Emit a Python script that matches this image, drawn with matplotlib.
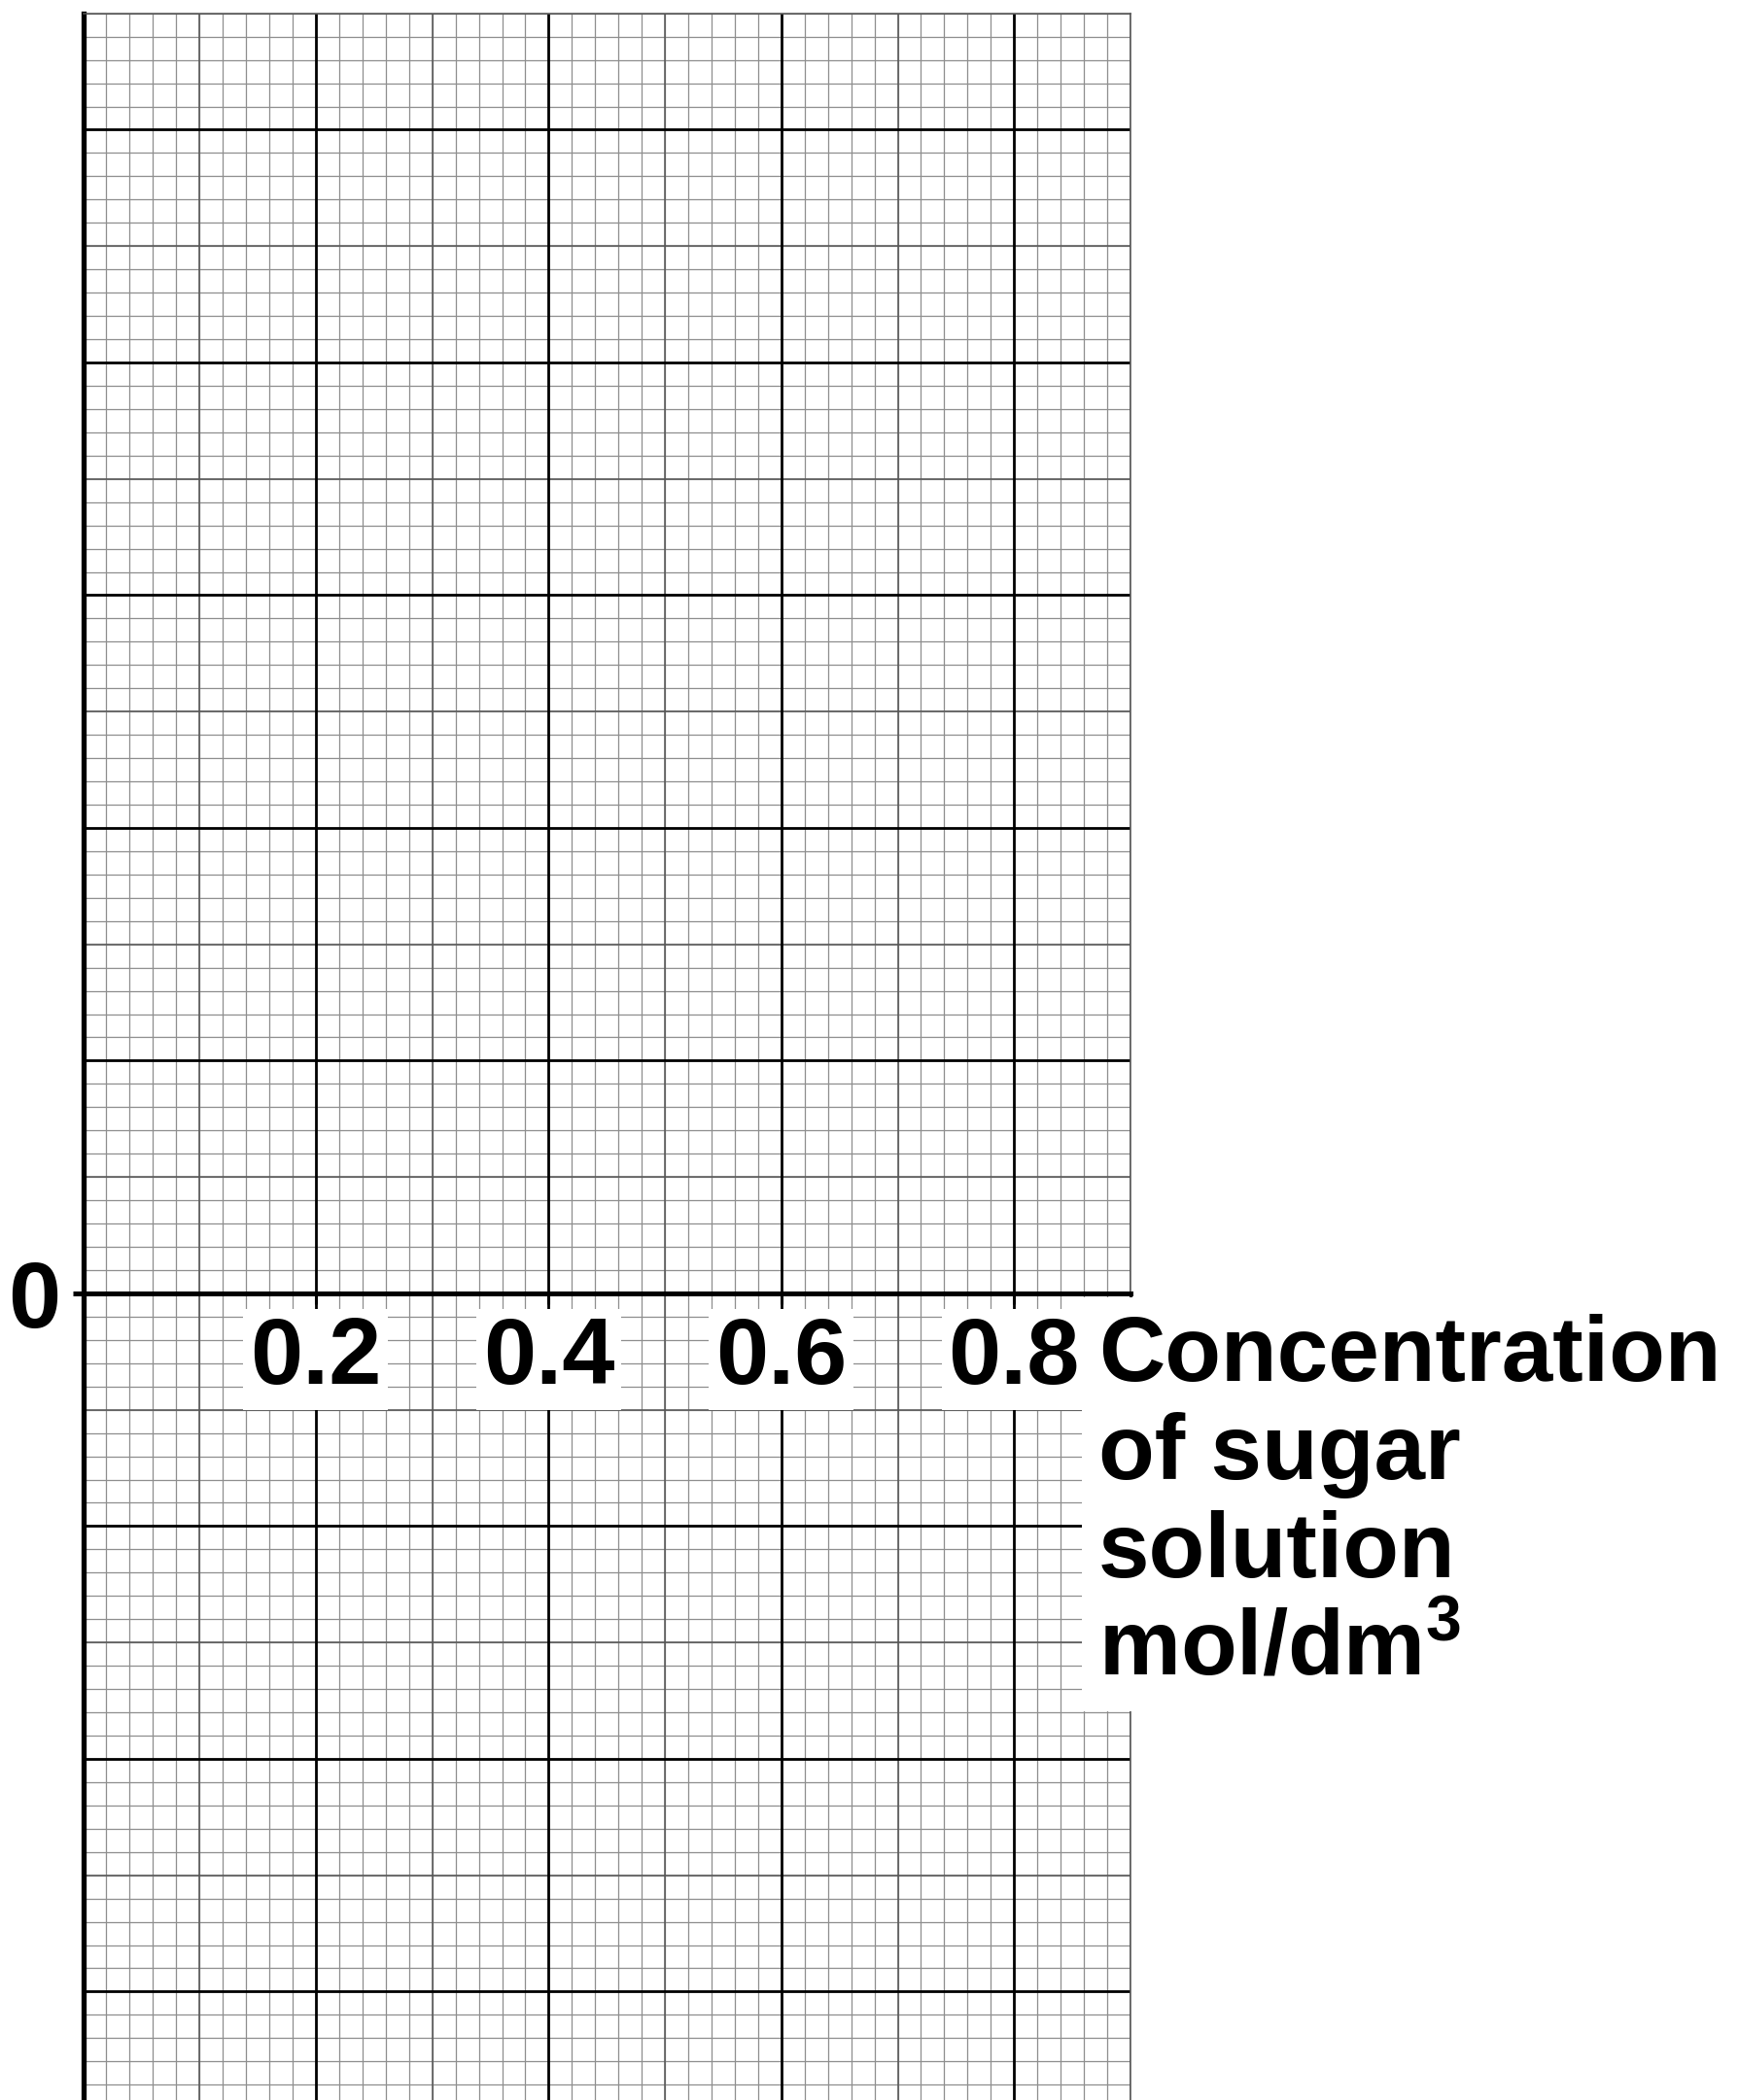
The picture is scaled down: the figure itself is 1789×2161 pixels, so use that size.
import matplotlib
matplotlib.use('Agg')
import matplotlib.pyplot as plt
import numpy as np

# axis data (graph paper, only the axis labels are given)
x_ticks = [0.2, 0.4, 0.6, 0.8, 0.9]
x_labels = ['0.2', '0.4', '0.6', '0.8', '']
y_ticks = [0]
y_labels = ['0']
x_range = [0, 0.9]
y_range = [-3.466, 5.5]
x_title = 'Concentration\nof sugar\nsolution\nmol/dm$^3$'

plt.rcParams['font.family'] = ['Liberation Sans', 'DejaVu Sans']
plt.rcParams['font.weight'] = 'bold'
plt.rcParams['mathtext.default'] = 'regular'

fig = plt.figure(figsize=(17.89, 21.61), dpi=100)
ax = fig.add_axes([85.5/1789, 0, (1163-85.5)/1789, 1 - 13.75/2161])
ax.set_xlim(x_range)
ax.set_ylim(y_range)
ax.set_axisbelow(False)

# graph paper: fine, half and main lines
xt = ax.get_xaxis_transform()
yt = ax.get_yaxis_transform()
fine_x = np.round(np.arange(0, 0.9001, 0.02), 3)
fine_y = np.round(np.arange(-3.4, 5.501, 0.1), 3)
half_x = np.round(np.arange(0.1, 0.9001, 0.2), 3)
half_y = np.round(np.arange(-2.5, 5.501, 1.0), 3)
main_x = np.round(np.arange(0.2, 0.9001, 0.2), 3)
main_y = np.round(np.arange(-3, 5.01, 1.0), 3)

ax.vlines(fine_x, 0, 1, transform=xt, color='#8e8e8e', lw=0.9, zorder=1)
ax.hlines(fine_y, 0, 1, transform=yt, color='#8e8e8e', lw=0.9, zorder=1)
ax.vlines(half_x, 0, 1, transform=xt, color='#555555', lw=1.1, zorder=1.1)
ax.hlines(half_y, 0, 1, transform=yt, color='#555555', lw=1.1, zorder=1.1)
ax.vlines(main_x, 0, 1, transform=xt, color='black', lw=2.0, zorder=1.2)
ax.hlines(main_y, 0, 1, transform=yt, color='black', lw=2.0, zorder=1.2)

# axes lines
ax.spines['bottom'].set_position(('data', 0))
ax.spines['bottom'].set_linewidth(3.6)
ax.spines['left'].set_linewidth(3.8)
ax.spines['top'].set_linewidth(1.1)
ax.spines['top'].set_color('#555555')
ax.spines['right'].set_linewidth(1.1)
ax.spines['right'].set_color('#555555')

ax.set_xticks(x_ticks)
ax.set_xticklabels(x_labels)
ax.set_yticks(y_ticks)
ax.set_yticklabels(y_labels)
ax.tick_params(axis='x', direction='out', length=8, width=2.2, pad=8.5, labelsize=70)
ax.tick_params(axis='y', direction='out', length=8, width=3.6, pad=8.5, labelsize=70)
for lab in ax.get_xticklabels():
    lab.set_bbox(dict(facecolor='white', edgecolor='none', pad=5))

# axis title to the right of the x axis
ax.annotate(x_title, xy=(0.9, 0), xytext=(-23.8, -15.5), textcoords='offset points',
            ha='left', va='top', fontsize=68, fontweight='bold', linespacing=1.17,
            annotation_clip=False, zorder=3,
            bbox=dict(facecolor='white', edgecolor='none', pad=12))

fig.savefig('out.png', dpi=100, facecolor='white')
